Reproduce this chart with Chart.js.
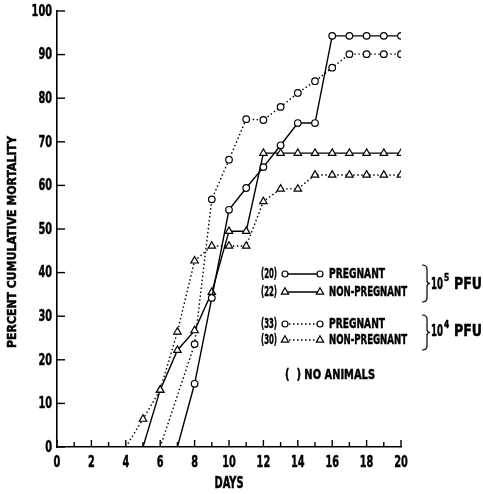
<!DOCTYPE html>
<html><head><meta charset="utf-8">
<script src="https://cdn.jsdelivr.net/npm/chart.js@4/dist/chart.umd.min.js"></script>
<style>html,body{margin:0;padding:0;background:#fff}#wrap{width:483px;height:494px;position:relative}</style>
</head><body><div id="wrap"><canvas id="c" width="483" height="494"></canvas></div>
<script>
const days = [0,1,2,3,4,5,6,7,8,9,10,11,12,13,14,15,16,17,18,19,20];
const pregnant1e5    = [null,null,null,null,null,null,null,0,14.5,34.2,54.4,59.4,64.2,69.2,74.3,74.3,94.3,94.3,94.3,94.3,94.3];
const nonPregnant1e5 = [null,null,null,null,null,0,13.1,22.2,26.7,35.5,49.5,49.5,67.4,67.4,67.4,67.4,67.4,67.4,67.4,67.4,67.4];
const pregnant1e4    = [null,null,null,null,null,null,0,null,23.6,56.8,65.9,75.2,75.0,78.0,81.2,83.9,87.0,90.1,90.1,90.1,90.1];
const nonPregnant1e4 = [null,null,null,null,0,6.4,13.1,26.4,42.7,46.1,46.1,46.1,56.3,59.2,59.2,62.4,62.4,62.4,62.4,62.4,62.4];
const yTicks = [0,10,20,30,40,50,60,70,80,90,100];
const xTickLabels = [0,2,4,6,8,10,12,14,16,18,20];
const xTitle = 'DAYS';
const yTitle = 'PERCENT CUMULATIVE MORTALITY';
const legendRows = [
  {count:'(20)', label:'PREGNANT', style:'circle', dotted:false},
  {count:'(22)', label:'NON-PREGNANT', style:'triangle', dotted:false},
  {count:'(33)', label:'PREGNANT', style:'circle', dotted:true},
  {count:'(30)', label:'NON-PREGNANT', style:'triangle', dotted:true}
];
const doseLabels = [{base:'10', exp:'5', unit:'PFU'},{base:'10', exp:'4', unit:'PFU'}];
const noteText = '(  ) NO ANIMALS';

const FAM = "'DejaVu Sans',sans-serif";
const DOT = [1.5,2.5];
const pts = v => days.map((d,i)=>({x:d,y:v[i]}));
const rad = r => c => (c.raw && c.raw.y===0) ? 0 : r;

function mk(vals, style, dotted, r){
  return {
    data: pts(vals), borderColor:'#000', borderWidth:1.4, borderDash: dotted?DOT:[],
    pointStyle: style, pointRadius: rad(r), pointHoverRadius: rad(r),
    pointBackgroundColor:'#fff', pointBorderColor:'#000', pointBorderWidth:1.2,
    spanGaps:true, tension:0, fill:false
  };
}

function ctext(ctx, text, x, y, size, sx, align, rot){
  ctx.save();
  ctx.font = 'bold '+size+'px '+FAM;
  ctx.textBaseline='middle';
  ctx.textAlign = align||'left';
  ctx.translate(x,y);
  if (rot) ctx.rotate(rot);
  ctx.scale(sx,1);
  ctx.fillText(text,0,0);
  ctx.strokeStyle='#000'; ctx.lineWidth=0.5;
  ctx.strokeText(text,0,0);
  ctx.restore();
}
function sxFor(ctx, text, size, target){
  ctx.save(); ctx.font='bold '+size+'px '+FAM;
  const w=ctx.measureText(text).width; ctx.restore();
  return target/w;
}

const axisPlugin = {
  id:'axisDecor',
  afterDraw(chart){
    const ctx=chart.ctx, xs=chart.scales.x, ys=chart.scales.y;
    ctx.save(); ctx.strokeStyle='#000'; ctx.lineWidth=1.4;
    days.forEach(d=>{
      const px=xs.getPixelForValue(d), len=(d%2===0)?7:5;
      ctx.beginPath(); ctx.moveTo(px,ys.bottom); ctx.lineTo(px,ys.bottom-len); ctx.stroke();
    });
    ys.ticks.forEach(t=>{
      const py=ys.getPixelForValue(t.value);
      ctx.beginPath(); ctx.moveTo(xs.left,py); ctx.lineTo(xs.left+8,py); ctx.stroke();
    });
    ctx.fillStyle='#000';
    const dsx = sxFor(ctx,'0',16.5,6.8);
    ys.ticks.forEach(t=>{
      ctext(ctx,String(t.value),xs.left-5,ys.getPixelForValue(t.value)+0.5,16.5,dsx,'right');
    });
    xs.ticks.forEach(t=>{
      ctext(ctx,String(t.value),xs.getPixelForValue(t.value),ys.bottom+16,16.5,dsx,'center');
    });
    ctext(ctx,xTitle,(xs.left+xs.right)/2,484,16,sxFor(ctx,xTitle,16,29),'center');
    ctext(ctx,yTitle,13,242,12.5,sxFor(ctx,yTitle,12.5,212),'center',-Math.PI/2);
    ctx.restore();
  }
};

function brace(ctx,x,y1,y2){
  const m=(y1+y2)/2, w=5;
  ctx.beginPath();
  ctx.moveTo(x,y1);
  ctx.quadraticCurveTo(x+w,y1,x+w,y1+4);
  ctx.lineTo(x+w,m-3);
  ctx.quadraticCurveTo(x+w,m,x+w+3,m);
  ctx.quadraticCurveTo(x+w,m,x+w,m+3);
  ctx.lineTo(x+w,y2-4);
  ctx.quadraticCurveTo(x+w,y2,x,y2);
  ctx.stroke();
}

const legendPlugin = {
  id:'customLegend',
  afterDraw(chart){
    const ctx=chart.ctx; const H=Chart.helpers;
    ctx.save();
    const rowsY=[274,292,324,340];
    legendRows.forEach((r,i)=>{
      const y=rowsY[i];
      ctx.fillStyle='#000';
      ctext(ctx,r.count,277,y+0.5,14,sxFor(ctx,r.count,14,16),'right');
      ctx.strokeStyle='#000'; ctx.lineWidth=1.3; ctx.setLineDash(r.dotted?DOT:[]);
      ctx.beginPath(); ctx.moveTo(285,y); ctx.lineTo(320,y); ctx.stroke(); ctx.setLineDash([]);
      const rr = r.style==='circle'?3:4.2;
      ctx.fillStyle='#fff'; ctx.strokeStyle='#000'; ctx.lineWidth=1.2;
      H.drawPoint(ctx,{pointStyle:r.style,radius:rr,borderWidth:1.2,rotation:0},285,y);
      H.drawPoint(ctx,{pointStyle:r.style,radius:rr,borderWidth:1.2,rotation:0},320,y);
      ctx.fillStyle='#000';
      const tw = r.label.length>8 ? 78 : 56;
      ctext(ctx,r.label,329,y+0.5,14,sxFor(ctx,r.label,14,tw),'left');
    });
    ctx.strokeStyle='#000'; ctx.lineWidth=1.2;
    brace(ctx,422,265,302);
    brace(ctx,422,315,350);
    const doseY=[285,332];
    ctx.fillStyle='#000';
    doseLabels.forEach((d,i)=>{
      const y=doseY[i];
      ctext(ctx,d.base,431,y,15,sxFor(ctx,d.base,15,12),'left');
      ctext(ctx,d.exp,444,y-7,10,0.75,'left');
      ctext(ctx,d.unit,454,y,15,sxFor(ctx,d.unit,15,28),'left');
    });
    ctext(ctx,noteText,285,375,14,sxFor(ctx,noteText,14,90),'left');
    ctx.restore();
  }
};

new Chart(document.getElementById('c'),{
  type:'line',
  data:{datasets:[
    mk(pregnant1e5,'circle',false,3.3),
    mk(nonPregnant1e5,'triangle',false,4.3),
    mk(pregnant1e4,'circle',true,3.3),
    mk(nonPregnant1e4,'triangle',true,4.3)
  ]},
  options:{
    responsive:false, animation:false, devicePixelRatio:1,
    layout:{padding:{top:11,right:82,left:0,bottom:0}},
    plugins:{legend:{display:false},tooltip:{enabled:false}},
    scales:{
      x:{type:'linear',min:0,max:20,
        afterFit(s){s.height=47;},
        afterBuildTicks(s){s.ticks=xTickLabels.map(v=>({value:v}));},
        grid:{display:false,drawTicks:false},
        border:{display:true,color:'#000',width:1.6},
        ticks:{display:false},
        title:{display:false}
      },
      y:{min:0,max:100,
        afterFit(s){s.width=57;},
        afterBuildTicks(s){s.ticks=yTicks.map(v=>({value:v}));},
        grid:{display:false,drawTicks:false},
        border:{display:true,color:'#000',width:1.6},
        ticks:{display:false},
        title:{display:false}
      }
    }
  },
  plugins:[axisPlugin,legendPlugin]
});
</script></body></html>
